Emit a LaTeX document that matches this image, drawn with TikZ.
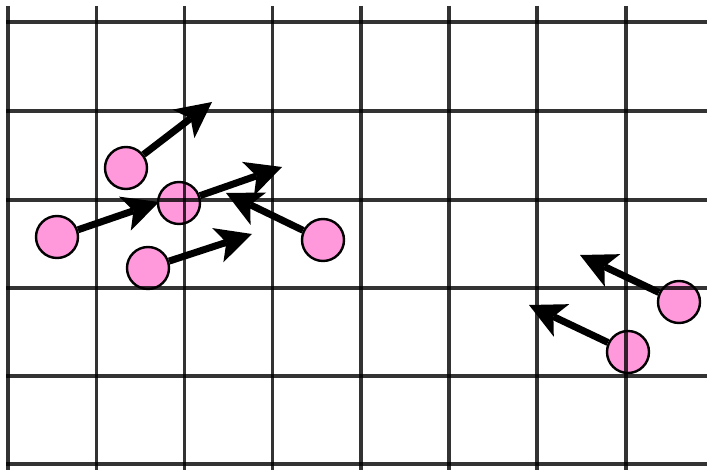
\documentclass[tikz,border=0pt]{standalone}
\usetikzlibrary{arrows.meta}
\definecolor{dotpink}{RGB}{255,153,220}
\begin{document}
\begin{tikzpicture}[x=1pt,y=-1pt,
  dot/.style={circle,draw=black,line width=2.4pt,fill=dotpink,minimum size=42pt,inner sep=0pt},
  gridline/.style={line width=3.8pt,draw=black,draw opacity=0.8},
  motion/.style={line width=7pt,-{Stealth[length=36pt,width=36pt,inset=9pt,line width=0pt]}}]
\useasboundingbox (0,0) rectangle (707,470);
% particles
\node[dot] (A) at (126,168) {};
\node[dot] (B) at (179,203) {};
\node[dot] (C) at (57,237) {};
\node[dot] (D) at (148,268) {};
\node[dot] (E) at (323,240) {};
\node[dot] (F) at (679,302) {};
\node[dot] (G) at (628,352) {};
% grid
\foreach \x in {8,96.5,184.5,272.5,361,449,537,626}
  \draw[gridline] (\x,6) -- (\x,472);
\foreach \y in {22,111,200,288,376,464}
  \draw[gridline] (6.1,\y) -- (709,\y);
% arrow tips
\coordinate (tA) at (212,102);
\coordinate (tB) at (282,167);
\coordinate (tC) at (159,202);
\coordinate (tD) at (252,234);
\coordinate (tE) at (226,193);
\coordinate (tF) at (580,255);
\coordinate (tG) at (529,305);
\draw[motion] (A) -- (tA);
\draw[motion] (B) -- (tB);
\draw[motion] (C) -- (tC);
\draw[motion] (D) -- (tD);
\draw[motion] (E) -- (tE);
\draw[motion] (F) -- (tF);
\draw[motion] (G) -- (tG);
\end{tikzpicture}
\end{document}
